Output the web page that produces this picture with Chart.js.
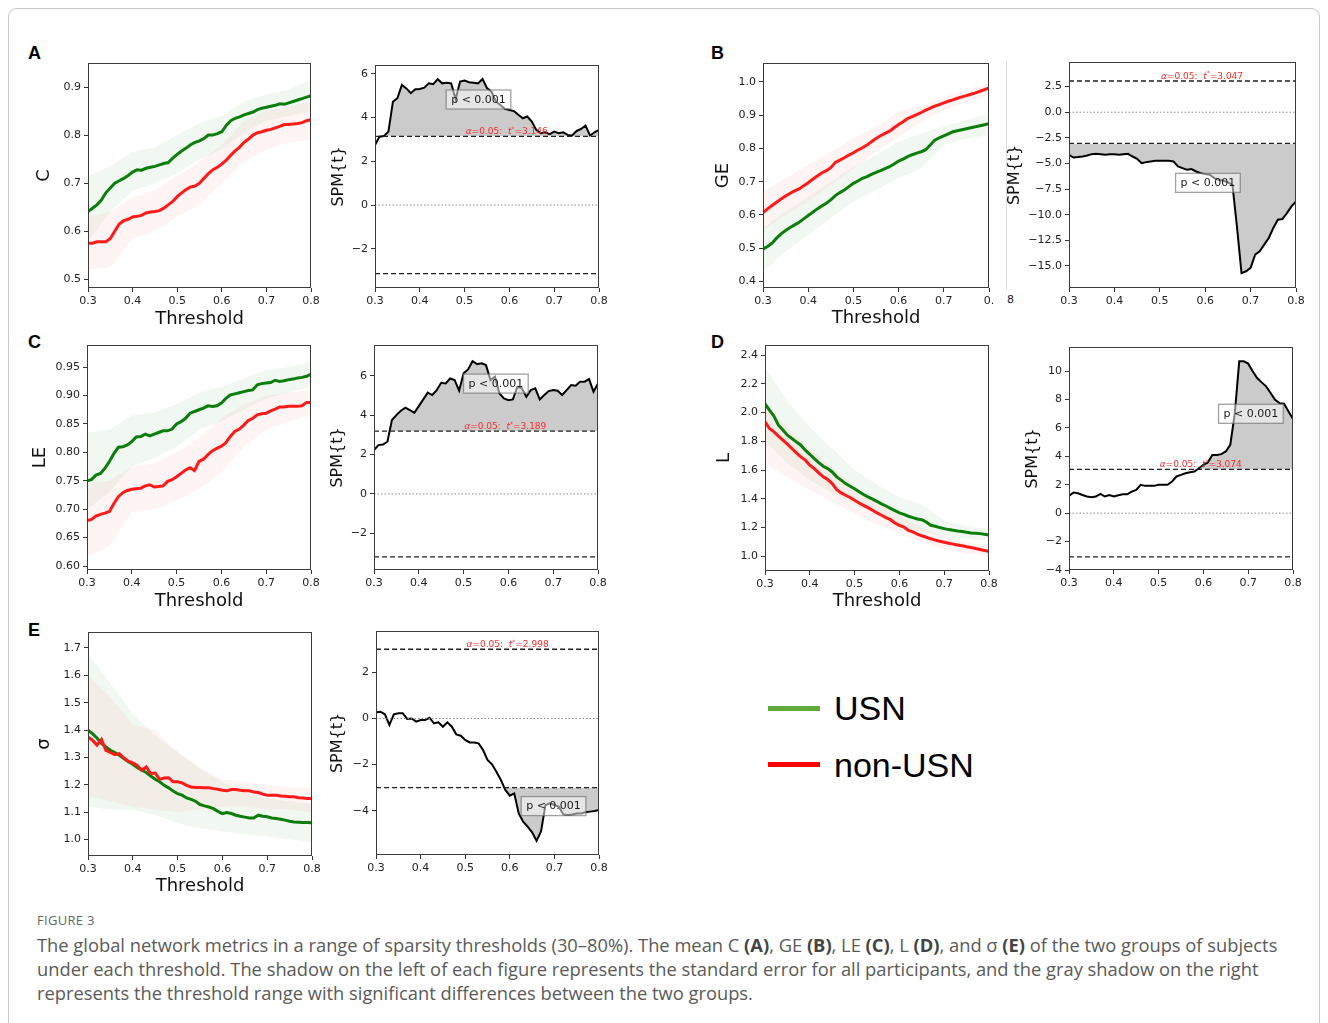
<!DOCTYPE html>
<html><head><meta charset="utf-8">
<script src="https://cdn.jsdelivr.net/npm/chart.js@4.4.1/dist/chart.umd.min.js"></script>
<style>
html,body{margin:0;padding:0;background:#fff;}
#page{position:relative;width:1328px;height:1023px;overflow:hidden;background:#fff;font-family:"DejaVu Sans",sans-serif;}
#frame{position:absolute;left:8px;top:8px;width:1312px;height:1040px;border:1px solid #c6c6c6;border-radius:9px;box-sizing:border-box;}
canvas{position:absolute;}
.letter{position:absolute;font:bold 18px "Liberation Sans",Arial,sans-serif;color:#000;line-height:1;}
.leg{position:absolute;font:34px "Liberation Sans",Arial,sans-serif;color:#000;line-height:1;}
.legline{position:absolute;left:768px;width:52px;height:5px;}
#vline{position:absolute;left:1006px;top:62px;width:1px;height:228px;background:#dcdcdc;}
#eight{position:absolute;left:1007px;top:294px;font:11px "DejaVu Sans";color:#222;line-height:1;}
#caption{position:absolute;left:37px;top:912px;color:#5a5a5a;font-family:"Open Sans",sans-serif;}
#figlabel{font-size:13px;line-height:16px;letter-spacing:0.3px;color:#666;margin-bottom:5px;}
.capline{white-space:nowrap;line-height:24px;}
.capline span{display:inline-block;}
.capline b{color:#444;}
</style>
</head>
<body>
<div id="page">
<div id="frame"></div>
<div class="letter" style="left:28px;top:44px;">A</div>
<div class="letter" style="left:711px;top:44px;">B</div>
<div class="letter" style="left:28px;top:333px;">C</div>
<div class="letter" style="left:711px;top:333px;">D</div>
<div class="letter" style="left:28px;top:621px;">E</div>
<div id="vline"></div>
<div id="eight">8</div>
<div class="legline" style="top:706px;background:#62aa3c;"></div>
<div class="legline" style="top:762px;background:#ff0000;"></div>
<div class="leg" style="left:834px;top:691px;">USN</div>
<div class="leg" style="left:834px;top:748px;">non-USN</div>
<div id="caption">
  <div id="figlabel">FIGURE 3</div>
  <div class="capline"><span id="cl1">The global network metrics in a range of sparsity thresholds (30–80%). The mean C <b>(A)</b>, GE <b>(B)</b>, LE <b>(C)</b>, L <b>(D)</b>, and σ <b>(E)</b> of the two groups of subjects</span></div>
  <div class="capline"><span>under each threshold. The shadow on the left of each figure represents the standard error for all participants, and the gray shadow on the right</span></div>
  <div class="capline"><span>represents the threshold range with significant differences between the two groups.</span></div>
</div>
</div>
<script>
// ---------- DATA ----------
const thresholdX = [0.30,0.31,0.32,0.33,0.34,0.35,0.36,0.37,0.38,0.39,0.40,0.41,0.42,0.43,0.44,0.45,0.46,0.47,0.48,0.49,0.50,0.51,0.52,0.53,0.54,0.55,0.56,0.57,0.58,0.59,0.60,0.61,0.62,0.63,0.64,0.65,0.66,0.67,0.68,0.69,0.70,0.71,0.72,0.73,0.74,0.75,0.76,0.77,0.78,0.79,0.80];
const bandX = [0.30,0.35,0.40,0.45,0.50,0.55,0.60,0.65,0.70,0.75,0.80];
const xTickValues = [0.3,0.4,0.5,0.6,0.7,0.8];

// A: clustering coefficient C
const C_usn = [0.641,0.648,0.655,0.665,0.68,0.69,0.70,0.705,0.71,0.716,0.723,0.728,0.727,0.731,0.733,0.735,0.738,0.741,0.743,0.752,0.760,0.767,0.773,0.78,0.785,0.788,0.793,0.80,0.80,0.803,0.807,0.82,0.83,0.835,0.838,0.842,0.845,0.848,0.853,0.856,0.858,0.86,0.862,0.865,0.864,0.867,0.87,0.873,0.876,0.879,0.882];
const C_non = [0.575,0.575,0.578,0.578,0.578,0.585,0.60,0.615,0.622,0.625,0.63,0.631,0.633,0.638,0.64,0.641,0.643,0.648,0.655,0.662,0.672,0.68,0.687,0.692,0.694,0.70,0.71,0.72,0.728,0.733,0.74,0.748,0.758,0.767,0.775,0.785,0.792,0.80,0.805,0.807,0.81,0.812,0.815,0.818,0.822,0.822,0.823,0.824,0.826,0.83,0.832];
const C_usnHi = [0.715,0.735,0.765,0.775,0.80,0.825,0.84,0.87,0.885,0.895,0.915];
const C_usnLo = [0.58,0.64,0.685,0.70,0.72,0.75,0.77,0.805,0.83,0.84,0.85];
const C_nonHi = [0.63,0.64,0.67,0.685,0.715,0.745,0.78,0.83,0.85,0.86,0.87];
const C_nonLo = [0.52,0.525,0.585,0.60,0.63,0.655,0.70,0.745,0.77,0.785,0.79];
const C_spm = [2.75,3.13,3.16,3.36,4.73,4.89,5.5,5.34,5.12,5.3,5.31,5.37,5.57,5.53,5.76,5.57,5.6,5.57,4.85,5.65,5.7,5.62,5.6,5.57,5.77,5.35,5.19,4.73,4.58,4.4,4.35,4.3,4.13,3.97,4.05,3.82,3.44,3.29,3.33,3.24,3.36,3.29,3.33,3.21,3.18,3.39,3.48,3.64,3.18,3.33,3.44];
const C_tcrit = 3.146;

// B: global efficiency GE
const GE_usn = [0.497,0.505,0.515,0.53,0.543,0.553,0.562,0.57,0.578,0.588,0.598,0.608,0.618,0.627,0.635,0.645,0.658,0.667,0.675,0.685,0.695,0.702,0.71,0.715,0.722,0.728,0.733,0.739,0.745,0.753,0.762,0.768,0.775,0.781,0.786,0.79,0.796,0.81,0.825,0.832,0.838,0.844,0.85,0.853,0.856,0.859,0.862,0.865,0.868,0.871,0.874];
const GE_non = [0.607,0.618,0.628,0.638,0.648,0.657,0.665,0.672,0.678,0.688,0.697,0.707,0.717,0.726,0.733,0.742,0.758,0.765,0.772,0.78,0.787,0.795,0.802,0.81,0.82,0.83,0.838,0.845,0.852,0.862,0.872,0.88,0.89,0.896,0.902,0.908,0.915,0.921,0.927,0.932,0.937,0.942,0.946,0.951,0.955,0.959,0.963,0.967,0.972,0.977,0.982];
const GE_usnHi = [0.56,0.61,0.655,0.70,0.745,0.78,0.82,0.845,0.865,0.885,0.905];
const GE_usnLo = [0.43,0.49,0.54,0.59,0.64,0.675,0.71,0.74,0.81,0.83,0.84];
const GE_nonHi = [0.67,0.71,0.75,0.79,0.83,0.865,0.91,0.93,0.955,0.975,1.0];
const GE_nonLo = [0.555,0.60,0.64,0.69,0.74,0.79,0.835,0.88,0.915,0.94,0.96];
const GE_spm = [-4.16,-4.42,-4.38,-4.32,-4.22,-4.09,-4.06,-4.09,-4.16,-4.09,-4.09,-4.16,-4.09,-4.06,-4.32,-4.55,-4.97,-4.87,-4.8,-4.74,-4.74,-4.74,-4.74,-4.8,-5.29,-5.45,-5.62,-5.55,-5.78,-5.94,-6.04,-6.1,-6.43,-6.59,-6.69,-6.85,-7.1,-11.2,-15.7,-15.52,-15.19,-13.9,-13.57,-12.92,-12.27,-11.3,-10.49,-10.42,-9.84,-9.19,-8.7];
const GE_tcrit = 3.047;

// C: local efficiency LE
const LE_usn = [0.75,0.752,0.76,0.763,0.772,0.784,0.798,0.809,0.81,0.813,0.819,0.827,0.828,0.832,0.829,0.832,0.835,0.838,0.838,0.841,0.85,0.854,0.86,0.869,0.872,0.875,0.878,0.882,0.881,0.882,0.887,0.895,0.901,0.903,0.905,0.907,0.909,0.91,0.919,0.921,0.922,0.923,0.927,0.925,0.926,0.928,0.929,0.931,0.932,0.934,0.938];
const LE_non = [0.68,0.682,0.688,0.691,0.693,0.696,0.71,0.722,0.729,0.733,0.735,0.736,0.737,0.741,0.743,0.739,0.74,0.741,0.749,0.752,0.757,0.763,0.769,0.773,0.768,0.784,0.788,0.796,0.803,0.807,0.811,0.817,0.828,0.837,0.841,0.848,0.856,0.86,0.866,0.868,0.869,0.873,0.876,0.88,0.88,0.881,0.881,0.881,0.882,0.888,0.888];
const LE_usnHi = [0.835,0.84,0.865,0.87,0.885,0.905,0.915,0.93,0.945,0.95,0.96];
const LE_usnLo = [0.70,0.73,0.775,0.79,0.81,0.84,0.855,0.875,0.895,0.905,0.915];
const LE_nonHi = [0.745,0.75,0.775,0.78,0.80,0.825,0.86,0.885,0.90,0.905,0.91];
const LE_nonLo = [0.615,0.635,0.695,0.70,0.715,0.735,0.765,0.81,0.84,0.855,0.865];
const LE_spm = [2.23,2.48,2.51,2.65,3.75,4.0,4.22,4.38,4.26,4.12,4.46,4.8,5.14,5.02,5.27,5.64,5.61,5.86,5.78,5.24,6.12,6.32,6.74,6.59,6.63,6.54,5.78,5.95,5.1,4.85,4.76,4.8,5.44,5.36,4.93,5.27,5.36,4.8,5.02,5.22,5.27,5.24,5.02,5.27,5.53,5.49,5.7,5.7,5.83,5.19,5.61];
const LE_tcrit = 3.189;

// D: characteristic path length L
const L_usn = [2.06,2.017,1.975,1.912,1.878,1.843,1.82,1.796,1.773,1.738,1.71,1.68,1.652,1.627,1.61,1.587,1.553,1.53,1.506,1.488,1.47,1.45,1.43,1.413,1.398,1.382,1.365,1.35,1.334,1.318,1.302,1.292,1.279,1.269,1.26,1.255,1.239,1.216,1.209,1.2,1.193,1.186,1.181,1.176,1.172,1.167,1.162,1.16,1.158,1.153,1.149];
const L_non = [1.936,1.889,1.866,1.836,1.808,1.78,1.75,1.72,1.692,1.669,1.634,1.61,1.58,1.553,1.534,1.506,1.464,1.441,1.425,1.409,1.39,1.371,1.355,1.339,1.32,1.302,1.286,1.269,1.255,1.232,1.216,1.204,1.181,1.17,1.155,1.143,1.133,1.122,1.113,1.105,1.098,1.091,1.085,1.079,1.073,1.067,1.061,1.055,1.048,1.041,1.035];
const L_usnHi = [2.32,2.08,1.90,1.75,1.60,1.50,1.41,1.36,1.25,1.21,1.19];
const L_usnLo = [1.80,1.65,1.53,1.44,1.36,1.29,1.22,1.17,1.14,1.12,1.11];
const L_nonHi = [2.05,1.90,1.75,1.62,1.48,1.38,1.28,1.20,1.14,1.10,1.07];
const L_nonLo = [1.65,1.55,1.46,1.38,1.30,1.22,1.16,1.10,1.05,1.02,1.00];
const L_spm = [1.21,1.45,1.4,1.28,1.17,1.12,1.17,1.36,1.17,1.28,1.17,1.26,1.33,1.33,1.52,1.64,1.99,1.92,1.92,1.92,1.99,1.99,1.99,2.22,2.58,2.69,2.81,2.88,2.93,3.16,3.4,3.56,4.1,4.1,4.15,4.34,4.81,7.0,10.68,10.68,10.52,9.98,9.51,9.2,8.92,8.45,7.98,7.74,7.7,7.16,6.62];
const L_tcrit = 3.074;

// E: small-worldness sigma
const S_usn = [1.399,1.387,1.371,1.351,1.338,1.326,1.318,1.308,1.296,1.284,1.275,1.263,1.253,1.245,1.232,1.22,1.211,1.198,1.189,1.177,1.168,1.162,1.152,1.147,1.14,1.128,1.123,1.119,1.113,1.103,1.095,1.099,1.095,1.089,1.085,1.082,1.079,1.079,1.089,1.085,1.083,1.079,1.077,1.074,1.071,1.067,1.064,1.063,1.062,1.062,1.061];
const S_non = [1.375,1.363,1.345,1.366,1.326,1.318,1.31,1.314,1.298,1.286,1.28,1.271,1.253,1.265,1.241,1.243,1.22,1.225,1.226,1.211,1.211,1.207,1.198,1.192,1.19,1.19,1.189,1.189,1.186,1.184,1.18,1.178,1.183,1.183,1.18,1.178,1.178,1.174,1.172,1.166,1.162,1.162,1.162,1.159,1.158,1.156,1.156,1.153,1.152,1.15,1.15];
const S_usnHi = [1.68,1.57,1.46,1.38,1.32,1.26,1.21,1.17,1.15,1.14,1.13];
const S_usnLo = [1.12,1.11,1.11,1.09,1.06,1.04,1.03,1.02,1.01,1.00,0.99];
const S_nonHi = [1.60,1.52,1.42,1.40,1.32,1.26,1.22,1.21,1.20,1.19,1.19];
const S_nonLo = [1.16,1.14,1.12,1.11,1.10,1.11,1.12,1.12,1.11,1.11,1.10];
const S_spm = [0.27,0.29,0.18,-0.28,0.18,0.22,0.22,-0.02,0.0,-0.14,-0.07,-0.07,0.03,-0.21,-0.17,-0.36,-0.17,-0.36,-0.69,-0.75,-0.93,-1.04,-1.04,-1.08,-1.37,-1.8,-1.99,-2.31,-2.67,-3.1,-3.35,-3.25,-4.12,-4.48,-4.69,-4.94,-5.3,-4.9,-3.75,-3.68,-3.75,-3.83,-4.16,-4.19,-4.16,-4.12,-4.12,-4.07,-4.04,-4.01,-3.97];
const S_tcrit = 2.998;

// tick labels
const C_yTicks = [0.5,0.6,0.7,0.8,0.9];
const GE_yTicks = [0.4,0.5,0.6,0.7,0.8,0.9,1.0];
const LE_yTicks = [0.60,0.65,0.70,0.75,0.80,0.85,0.90,0.95];
const L_yTicks = [1.0,1.2,1.4,1.6,1.8,2.0,2.2,2.4];
const S_yTicks = [1.0,1.1,1.2,1.3,1.4,1.5,1.6,1.7];
const C_spmTicks = [-2,0,2,4,6];
const GE_spmTicks = [2.5,0,-2.5,-5,-7.5,-10,-12.5,-15];
const LE_spmTicks = [-2,0,2,4,6];
const L_spmTicks = [-4,-2,0,2,4,6,8,10];
const S_spmTicks = [-4,-2,0,2];

// ---------- HELPERS ----------
const FONT = '"DejaVu Sans", sans-serif';
const pts = (xs, ys) => xs.map((x,i)=>({x:x, y:ys[i]}));
const hline = v => [{x:thresholdX[0], y:v},{x:thresholdX[thresholdX.length-1], y:v}];
const fmt = (v,d) => { const n = Math.abs(v)<1e-9 ? 0 : v; return n.toFixed(d).replace('-', '\u2212'); };

const axesBox = {
  id:'axesBox',
  afterDraw(chart){
    const {ctx, chartArea:a} = chart;
    ctx.save();
    ctx.strokeStyle = '#3c3c3c'; ctx.lineWidth = 1;
    ctx.strokeRect(Math.round(a.left)+0.5, Math.round(a.top)+0.5, Math.round(a.right-a.left)-1, Math.round(a.bottom-a.top)-1);
    ctx.restore();
  }
};

const spmAnno = {
  id:'spmAnno',
  afterDatasetsDraw(chart, args, o){
    if (!o || !o.thr) return;
    const {ctx} = chart; const x = chart.scales.x, y = chart.scales.y;
    ctx.save();
    const parts = [
      {t:'\u03b1', f:'italic 9px '+FONT, dy:0},
      {t:'=0.05:  ', f:'9px '+FONT, dy:0},
      {t:'t', f:'italic 9px '+FONT, dy:0},
      {t:'*', f:'6px '+FONT, dy:-3.5},
      {t:'=' + o.thr.toFixed(3), f:'9px '+FONT, dy:0}
    ];
    let tw = 0;
    parts.forEach(p=>{ ctx.font = p.f; p.w = ctx.measureText(p.t).width; tw += p.w; });
    let cx = x.getPixelForValue(o.labelX) - tw/2;
    const by = y.getPixelForValue(o.thr) - 2;
    ctx.fillStyle = '#ff2a2a'; ctx.textBaseline = 'alphabetic'; ctx.textAlign = 'left';
    parts.forEach(p=>{ ctx.font = p.f; ctx.fillText(p.t, cx, by + p.dy); cx += p.w; });
    const px = x.getPixelForValue(o.pX), py = y.getPixelForValue(o.pY);
    ctx.font = '11px '+FONT;
    const w = ctx.measureText(o.pText).width + 10, h = 19;
    ctx.fillStyle = 'rgba(255,255,255,0.5)';
    ctx.fillRect(px-w/2, py-h/2, w, h);
    ctx.strokeStyle = 'rgba(110,110,110,0.65)'; ctx.lineWidth = 1.3;
    ctx.strokeRect(px-w/2, py-h/2, w, h);
    ctx.fillStyle = '#1a1a1a'; ctx.textAlign = 'center'; ctx.textBaseline = 'middle';
    ctx.fillText(o.pText, px, py+0.5);
    ctx.restore();
  }
};

const page = document.getElementById('page');

function buildPanel(p){
  const cv = document.createElement('canvas');
  const W = p.box[2]-p.box[0], H = p.box[3]-p.box[1];
  cv.width = W; cv.height = H;
  cv.style.left = p.box[0]+'px'; cv.style.top = p.box[1]+'px';
  cv.style.width = W+'px'; cv.style.height = H+'px';
  page.appendChild(cv);
  const yW = p.area[0]-p.box[0], xH = p.box[3]-p.area[3];
  const padTop = p.area[1]-p.box[1], padRight = p.box[2]-p.area[2];
  const yTS = p.yTitleSize, yLH = yTS*1.2;
  const xTS = 18, xLH = xTS*1.2;
  new Chart(cv, {
    type:'line',
    data:{datasets:p.datasets},
    options:{
      responsive:false, animation:false, events:[],
      layout:{padding:{top:padTop, right:padRight, left:0, bottom:0}},
      plugins:{legend:{display:false}, tooltip:{enabled:false}, spmAnno:p.anno || {}},
      elements:{point:{radius:0}, line:{tension:0}},
      scales:{
        x:{
          type:'linear', min:0.3, max:0.8,
          afterBuildTicks:s=>{ s.ticks = xTickValues.map(v=>({value:v})); },
          afterFit:s=>{ s.height = xH; s.paddingLeft = 0; s.paddingRight = 0; },
          ticks:{font:{family:FONT, size:11}, color:'#222', padding:3, maxRotation:0, autoSkip:false,
                 callback:(v)=> (p.xLast && Math.abs(v-0.8)<1e-6) ? p.xLast : Number(v).toFixed(1)},
          grid:{drawOnChartArea:false, drawTicks:true, tickLength:4, color:'#333', lineWidth:1},
          border:{display:false},
          title: p.xTitle ? {display:true, text:p.xTitle, color:'#111', font:{family:FONT, size:xTS, lineHeight:1.2},
                             padding:{top:0, bottom:p.box[3]-p.xTitleY-xLH/2}} : {display:false}
        },
        y:{
          type:'linear', min:p.yMin, max:p.yMax,
          afterBuildTicks:s=>{ s.ticks = p.yTicks.map(v=>({value:v})); },
          afterFit:s=>{ s.width = yW; s.paddingTop = 0; s.paddingBottom = 0; },
          ticks:{font:{family:FONT, size:11}, color:'#222', padding:3, autoSkip:false,
                 callback:(v)=> fmt(Number(v), p.yDec)},
          grid:{drawOnChartArea:false, drawTicks:true, tickLength:4, color:'#333', lineWidth:1},
          border:{display:false},
          title:{display:true, text:p.yTitle, color:'#111', font:{family:FONT, size:yTS, lineHeight:1.2},
                 padding:{top:p.yTitleX-p.box[0]-yLH/2, bottom:0}}
        }
      }
    },
    plugins:[axesBox, spmAnno]
  });
}

const GREEN = '#0b7d0b', RED = '#ff1a1a';
const GREEN_BAND = 'rgba(60,160,60,0.07)', RED_BAND = 'rgba(255,60,60,0.06)';

function groupSets(usn, non, uHi, uLo, nHi, nLo){
  return [
    {data:pts(thresholdX, non), borderColor:RED, borderWidth:3, fill:false, order:0},
    {data:pts(thresholdX, usn), borderColor:GREEN, borderWidth:3, fill:false, order:1},
    {data:pts(bandX, nHi), borderColor:'rgba(0,0,0,0)', borderWidth:0, backgroundColor:RED_BAND, fill:'+1', order:2},
    {data:pts(bandX, nLo), borderColor:'rgba(0,0,0,0)', borderWidth:0, fill:false, order:2},
    {data:pts(bandX, uHi), borderColor:'rgba(0,0,0,0)', borderWidth:0, backgroundColor:GREEN_BAND, fill:'+1', order:3},
    {data:pts(bandX, uLo), borderColor:'rgba(0,0,0,0)', borderWidth:0, fill:false, order:3}
  ];
}
function spmSets(spm, t, sign){
  const grey = '#cbcbcb', clear = 'rgba(0,0,0,0)';
  return [
    {data:hline(t), borderColor:'#222', borderWidth:1.3, borderDash:[5,3], fill:false, order:0},
    {data:hline(-t), borderColor:'#222', borderWidth:1.3, borderDash:[5,3], fill:false, order:0},
    {data:hline(0), borderColor:'#8a8a8a', borderWidth:1, borderDash:[1.5,2], fill:false, order:0},
    {data:pts(thresholdX, spm), borderColor:'#000', borderWidth:2,
     fill:{target:{value:sign*t}, above: sign>0 ? grey : clear, below: sign>0 ? clear : grey}, order:1}
  ];
}

const panels = [
  {box:[20,55,325,338], area:[88,63,311,288], xTitle:'Threshold', xTitleY:319, yTitle:'C', yTitleX:44, yTitleSize:18,
   yMin:0.482, yMax:0.95, yTicks:C_yTicks, yDec:1, datasets:groupSets(C_usn,C_non,C_usnHi,C_usnLo,C_nonHi,C_nonLo)},
  {box:[325,55,620,315], area:[375,65,599,288], yTitle:'SPM{t}', yTitleX:339, yTitleSize:16,
   yMin:-3.8, yMax:6.41, yTicks:C_spmTicks, yDec:0, datasets:spmSets(C_spm, C_tcrit, 1),
   anno:{thr:C_tcrit, labelX:0.594, pX:0.531, pY:4.83, pText:'p < 0.001'}},
  {box:[700,55,1000,338], area:[763,63,989,288], xTitle:'Threshold', xTitleY:318.3, yTitle:'GE', yTitleX:723, yTitleSize:18,
   yMin:0.38, yMax:1.057, yTicks:GE_yTicks, yDec:1, xLast:'0.', datasets:groupSets(GE_usn,GE_non,GE_usnHi,GE_usnLo,GE_nonHi,GE_nonLo)},
  {box:[1000,55,1310,315], area:[1069,62,1296,288], yTitle:'SPM{t}', yTitleX:1015, yTitleSize:16,
   yMin:-17.15, yMax:4.9, yTicks:GE_spmTicks, yDec:1, datasets:spmSets(GE_spm, GE_tcrit, -1),
   anno:{thr:GE_tcrit, labelX:0.593, pX:0.606, pY:-6.89, pText:'p < 0.001'}},
  {box:[20,338,325,620], area:[87,345,311,570], xTitle:'Threshold', xTitleY:601.7, yTitle:'LE', yTitleX:40, yTitleSize:18,
   yMin:0.593, yMax:0.989, yTicks:LE_yTicks, yDec:2, datasets:groupSets(LE_usn,LE_non,LE_usnHi,LE_usnLo,LE_nonHi,LE_nonLo)},
  {box:[325,338,620,600], area:[374,345,598,570], yTitle:'SPM{t}', yTitleX:338, yTitleSize:16,
   yMin:-3.86, yMax:7.56, yTicks:LE_spmTicks, yDec:0, datasets:spmSets(LE_spm, LE_tcrit, 1),
   anno:{thr:LE_tcrit, labelX:0.593, pX:0.572, pY:5.6, pText:'p < 0.001'}},
  {box:[700,338,1000,620], area:[765,345,989,571], xTitle:'Threshold', xTitleY:601.7, yTitle:'L', yTitleX:724, yTitleSize:18,
   yMin:0.898, yMax:2.47, yTicks:L_yTicks, yDec:1, datasets:groupSets(L_usn,L_non,L_usnHi,L_usnLo,L_nonHi,L_nonLo)},
  {box:[1000,338,1310,600], area:[1069,347,1293,570], yTitle:'SPM{t}', yTitleX:1032.5, yTitleSize:16,
   yMin:-4, yMax:11.69, yTicks:L_spmTicks, yDec:0, datasets:spmSets(L_spm, L_tcrit, 1),
   anno:{thr:L_tcrit, labelX:0.594, pX:0.706, pY:6.99, pText:'p < 0.001'}},
  {box:[20,622,325,905], area:[88,632,312,856], xTitle:'Threshold', xTitleY:886.7, yTitle:'\u03c3', yTitleX:44, yTitleSize:18,
   yMin:0.94, yMax:1.758, yTicks:S_yTicks, yDec:1, datasets:groupSets(S_usn,S_non,S_usnHi,S_usnLo,S_nonHi,S_nonLo)},
  {box:[325,622,620,885], area:[376,631,599,855], yTitle:'SPM{t}', yTitleX:338, yTitleSize:16,
   yMin:-5.92, yMax:3.79, yTicks:S_spmTicks, yDec:0, datasets:spmSets(S_spm, S_tcrit, -1),
   anno:{thr:S_tcrit, labelX:0.595, pX:0.698, pY:-3.8, pText:'p < 0.001'}}
];
panels.forEach(buildPanel);

(function(){
  const cap = document.getElementById('caption');
  cap.style.fontSize = '17px';
  const w = document.getElementById('cl1').getBoundingClientRect().width;
  cap.style.fontSize = (17*1241/w) + 'px';
})();
</script>
</body></html>
